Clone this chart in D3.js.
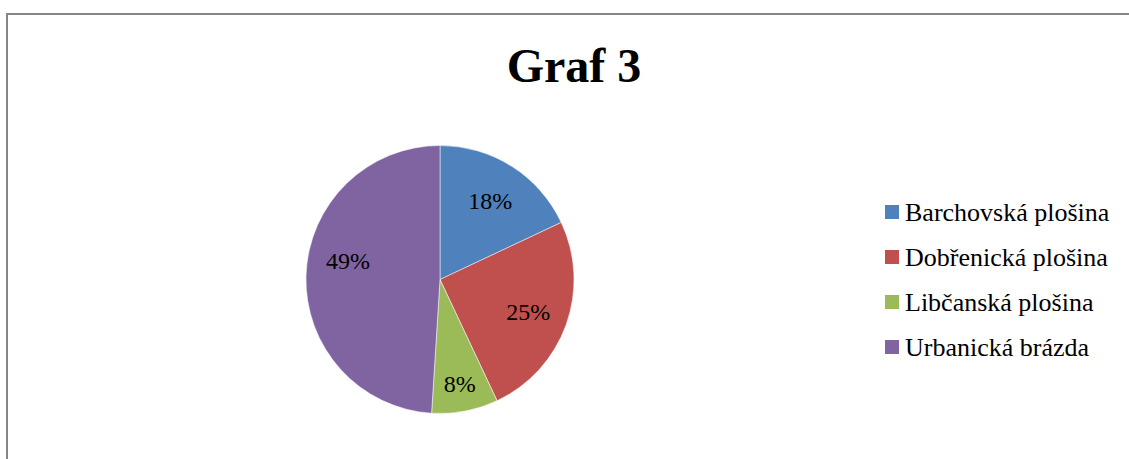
<!DOCTYPE html>
<html>
<head>
<meta charset="utf-8">
<script src="https://cdn.jsdelivr.net/npm/d3@7"></script>
<style>
  body { margin: 0; background: #fff; }
  svg { display: block; }
</style>
</head>
<body>
<div class="canvas"></div>
<script>
// data
const categories = ['Barchovská plošina', 'Dobřenická plošina', 'Libčanská plošina', 'Urbanická brázda'];
const shares = [18, 25, 8, 49];
const colours = ['#4f81bd', '#c0504d', '#9bbb59', '#8064a2'];

const width = 1129, height = 459;

const svg = d3.select('.canvas')
  .append('svg')
    .attr('width', width)
    .attr('height', height);

// chart frame (right and bottom edges fall outside the picture)
svg.append('rect')
  .attr('x', 7)
  .attr('y', 14)
  .attr('width', 1200)
  .attr('height', 500)
  .attr('fill', '#fff')
  .attr('stroke', '#868686')
  .attr('stroke-width', 2);

// title
svg.append('text')
  .attr('x', 574)
  .attr('y', 82)
  .attr('text-anchor', 'middle')
  .attr('font-family', '"Liberation Serif", "Times New Roman", serif')
  .attr('font-weight', 'bold')
  .attr('font-size', 48)
  .text('Graf 3');

// pie
const radius = 134;
const graph = svg.append('g')
  .attr('transform', `translate(440, 279.5)`);

const pie = d3.pie().sort(null).value(d => d);
const arc = d3.arc().innerRadius(0).outerRadius(radius);

const slices = pie(shares);

graph.selectAll('path')
  .data(slices)
  .enter()
  .append('path')
    .attr('d', arc)
    .attr('fill', (d, i) => colours[i])
    .attr('stroke', '#fff')
    .attr('stroke-width', 0.5);

// "best fit" style label placement: small slices pushed outwards,
// the big one lifted a little like the original
const labelPos = d => {
  const share = d.data / 100;
  const r = radius * (share < 0.1 ? 0.79 : 0.7);
  const a = (d.startAngle + d.endAngle) / 2 + (share > 0.4 ? 0.17 : 0);
  return [Math.sin(a) * r, -Math.cos(a) * r];
};

graph.selectAll('text')
  .data(slices)
  .enter()
  .append('text')
    .attr('transform', d => `translate(${labelPos(d)})`)
    .attr('text-anchor', 'middle')
    .attr('dy', '0.35em')
    .attr('font-family', '"Liberation Serif", "Times New Roman", serif')
    .attr('font-size', 24)
    .attr('fill', '#000')
    .text(d => `${d.data}%`);

// legend
const legend = svg.append('g')
  .attr('transform', 'translate(885, 205)');

const rows = legend.selectAll('g')
  .data(categories)
  .enter()
  .append('g')
    .attr('transform', (d, i) => `translate(0, ${i * 45})`);

rows.append('rect')
  .attr('width', 14)
  .attr('height', 14)
  .attr('fill', (d, i) => colours[i]);

rows.append('text')
  .attr('x', 20)
  .attr('y', 16)
  .attr('font-family', '"Liberation Serif", "Times New Roman", serif')
  .attr('font-size', 26)
  .attr('fill', '#000')
  .text(d => d);
</script>
</body>
</html>
